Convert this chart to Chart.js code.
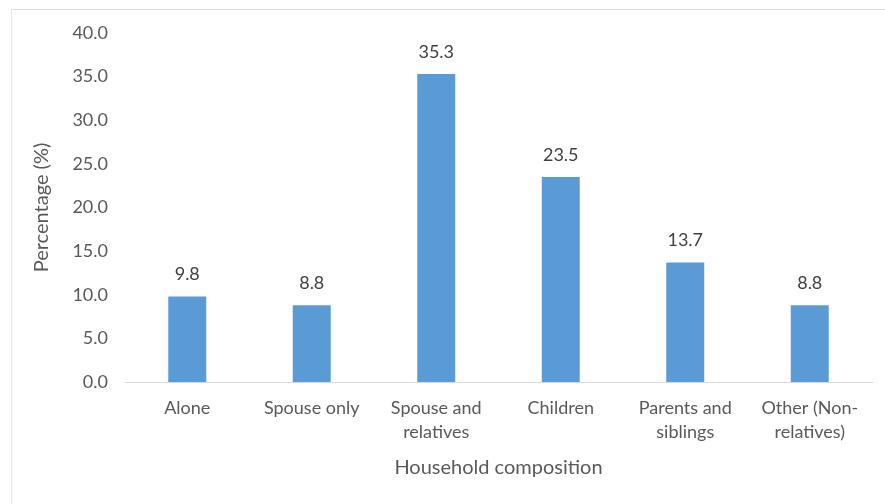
<!DOCTYPE html>
<html>
<head>
<meta charset="utf-8">
<script src="https://cdn.jsdelivr.net/npm/chart.js@4/dist/chart.umd.min.js"></script>
<style>
  html, body { margin: 0; padding: 0; background: #fff; }
  #wrap { position: relative; width: 885px; height: 504px; }
  #frame { position: absolute; left: 11px; top: 9px; right: 0; bottom: 0;
           border-top: 1px solid #dcdcdc; border-left: 1px solid #e6e6e6; }
  canvas { position: absolute; left: 0; top: 0; }
</style>
</head>
<body>
<div id="wrap">
  <div id="frame"></div>
  <canvas id="chart" width="885" height="504"></canvas>
</div>
<script>
// Household composition shares
const categories = [
  'Alone',
  'Spouse only',
  ['Spouse and', 'relatives'],
  'Children',
  ['Parents and', 'siblings'],
  ['Other (Non-', 'relatives)']
];
const percentages = [9.8, 8.8, 35.3, 23.5, 13.7, 8.8];
const yMin = 0;
const yMax = 40;
const yStep = 5;

const FONT = 'Lato, "Noto Sans", sans-serif';
const TEXT = '#595959';

// Value labels above each bar
const barLabels = {
  id: 'barLabels',
  afterDatasetsDraw(chart) {
    const ctx = chart.ctx;
    const meta = chart.getDatasetMeta(0);
    ctx.save();
    ctx.font = '18px ' + FONT;
    ctx.fillStyle = '#404040';
    ctx.textAlign = 'center';
    ctx.textBaseline = 'middle';
    meta.data.forEach((bar, i) => {
      ctx.fillText(percentages[i].toFixed(1), bar.x, bar.y - 22);
    });
    ctx.restore();
  }
};

new Chart(document.getElementById('chart'), {
  type: 'bar',
  data: {
    labels: categories,
    datasets: [{
      data: percentages,
      backgroundColor: '#5b9bd5',
      borderWidth: 0,
      barPercentage: 0.305,
      categoryPercentage: 1
    }]
  },
  options: {
    responsive: false,
    animation: false,
    layout: { padding: { left: 30, right: 13, top: 33, bottom: 26 } },
    plugins: { legend: { display: false }, tooltip: { enabled: false } },
    scales: {
      x: {
        grid: { display: false, drawTicks: false },
        border: { display: true, color: '#d9d9d9', width: 1 },
        ticks: {
          color: TEXT,
          font: { family: FONT, size: 18, lineHeight: 1.333 },
          padding: 14,
          maxRotation: 0,
          autoSkip: false
        },
        title: {
          display: true,
          text: 'Household composition',
          color: TEXT,
          font: { family: FONT, size: 20, lineHeight: 1.0 },
          padding: { top: 0, bottom: 0 }
        }
      },
      y: {
        min: yMin,
        max: yMax,
        grid: { display: false, drawTicks: false },
        border: { display: false },
        afterFit(scale) { scale.width = 95; },
        ticks: {
          stepSize: yStep,
          color: TEXT,
          font: { family: FONT, size: 18 },
          padding: 17,
          callback: v => Number(v).toFixed(1)
        },
        title: {
          display: true,
          text: 'Percentage (%)',
          color: TEXT,
          font: { family: FONT, size: 20, lineHeight: 1.2 },
          padding: { top: 0, bottom: 0 }
        }
      }
    }
  },
  plugins: [barLabels]
});
</script>
</body>
</html>
